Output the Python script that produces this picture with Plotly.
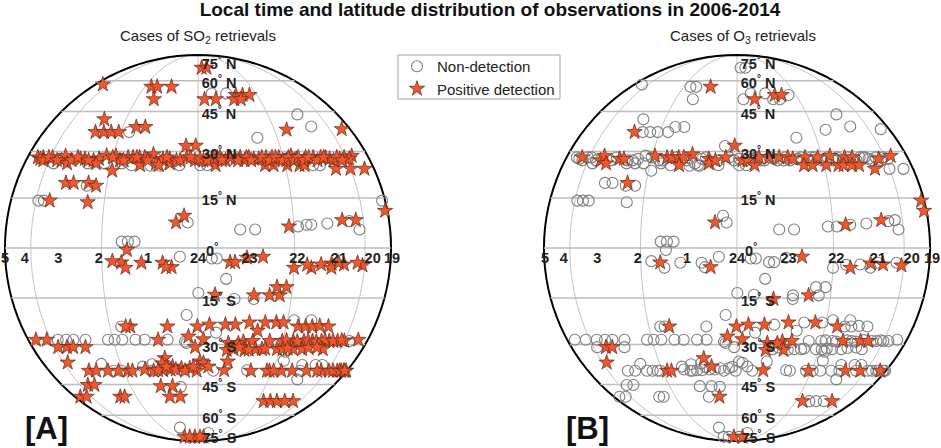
import plotly.graph_objects as go

# Observations, as (longitude from local midnight in degrees, latitude in degrees), by detection outcome
both_lon = [-14.4,8.3,18.7,22.2,-41.6,-0.8,-15.3,-37,81,-6.6,49,
    -65.2,-52.5,-51.3,-49,-43.3,-41.3,-28.9,-24.2,-22.4,-20,-18.2,-19.4,-9.5,-9.3,-7.2,-3.8,1.8,3.5,5.8,7.4,10.9,14.3,17.3,19,23.5,22.6,25.7,28.3,30.8,33.2,35.6,39.1,37.7,42.5,51.6,55.8,64.9,
    -23.5,-7.9,19.7,36.2,44,49.4,58.8,
    22.5,-22.6,-0.2,3.7,8.9,16.8,26.1,34.6,-3.2,1.8,10.4,10.1,15.6,18.9,16.5,13.9,38.8,46.9,50.9,
    -52.3,-48.9,-28,-26.1,-9.6,10.1,28.7,46.7,55.8,74,-57,-12.1,-8.2,33.9,54,-4.4,7.9]
both_lat = [56.6,50.4,52.4,52.4,36.9,32,29,19.7,11.1,7.6,8.3,
    28,27,28.5,26,27.5,27.5,28.5,28,28,28,28,25.4,27.5,26,27,28,27,27,25.4,28,28,28,28,27.5,28,25.4,25.4,28,25.4,28.5,25.4,28,25.4,28,24.2,27.5,28.5,
    -4.3,-5.7,-2.6,-5.9,-4.6,-4.9,-5.2,
    -14.2,-24,-24,-23.4,-23.4,-22.7,-22.7,-24,-27.3,-28.2,-29.5,-31.9,-29,-28.8,-31.9,-29.6,-28.8,-28.8,-28.8,
    -30.9,-30.9,-39.5,-39.5,-37.9,-39.3,-39.5,-39.5,-39.5,-39.5,-36.4,-34.8,-50.4,-52.5,-52.5,-78,-78]

so2_only_lon = [-68,-26,-22.6,-21,3,25.9,17.1,20.4,3,7,35.5,70.9,-40.6,-37.6,-34.2,-30.9,-24.2,-20.5,-4.2,-29,-46.6,-43.2,-33.9,-52.4,-36,-4.2,28.3,55.7,
    -70,-67,-58.5,-47.3,-37.4,-35.3,-32.6,-27,-14,-11.8,-13,-1,0.7,5.2,9.2,12.6,15.7,20.8,25.7,30.9,35,46,48.5,50.2,60,71,59,62,-36,
    -64,-61,-55,-44.8,-39.5,-30,-25.6,-21,-17,-10.5,-6,-2.5,3,6.5,8,11,13.5,16.5,18,22,24.5,27,29.5,32,34,36,38,40.5,44,47.5,52,54.5,57,
    -21.6,-26.4,-22.2,-17.1,-10.6,-9.6,9.6,11.1,14.7,30,39.8,44,56,47,34.6,
    5.2,17.4,25.9,24.7,27.9,
    -24.2,-10,12.2,22.2,28.7,37.6,40.4,43.6,47.7,20,
    -72.7,-62.9,-13.6,-57.6,-42.8,-1,
    25.1,29.9,34.3,42.6,55.6,59.9,70.7,31.5,36,40.5,44.5,48.5,53,58,
    12.5,20.4,22.9,28.7,35.3,39.3,49.4,24,31,33,42,46,18,14.5,
    -47.1,-43.1,-37.2,-32.2,-20.7,-17.3,-13.5,-6.3,-3.1,-0.5,0.7,2,3.9,11,20.8,27.6,34,39.2,53.1,61.5,69.2,84,-13.4,
    -10.5,-8.5,-5,-1.8,-15.5,-12,30.5,65,72,78,80,
    -54.1,-49.6,-73,-64.8,-39.2,-36.6,-16,-10.9,-13.2,38,42.2,47.6,-19.5,-11.8,2.9]
so2_only_lat = [57.9,56.6,56.6,50.4,50.4,52.4,50.4,50.4,69,69,37.8,38,41.8,36.9,36.9,36.9,38.8,38.8,31.9,23.6,19.7,19.7,18.8,14.2,13.7,9.6,6.4,8.3,
    28,27.5,28,27,27,27.5,28.6,27,26,27.5,25.4,27,27.5,27.5,27,27.5,27,27.5,28,27,27.5,28,28,27.5,24.2,24.2,28,27.5,26,
    27,28,27,28,27,28,27,28,27,28,27,28,27,28,27,28,27,28,27,28,27,28,27,28,27,28,27,28,27,28,27,28,27,
    -0.6,-3.9,-5.9,-4.4,-4.4,-5.7,-4.2,-4.2,-2.9,-5.9,-4.9,-5.9,-4.4,-4.4,-5,
    -14,-14.2,-14.2,-11.7,-11.7,
    -24,-24,-23.4,-22.7,-22.7,-24,-24,-23.8,-24,-25.4,
    -28.4,-28.4,-28.4,-30.9,-30.9,-30.9,
    -28.8,-28.8,-28.8,-28.8,-28.8,-28.8,-28.4,-28.6,-29,-28.6,-29,-28.5,-28.8,-28.6,
    -31.6,-31.6,-31.6,-31.6,-31.6,-31.6,-31.6,-31.4,-31.6,-31.4,-31.2,-31,-31.8,-31,
    -39.5,-39.5,-39.5,-39.5,-39,-39.5,-39.3,-38.5,-38.5,-39.5,-36,-36.5,-37.9,-36,-39.5,-39.5,-39.5,-39.5,-39.5,-39.5,-39.5,-39.5,-36.7,
    -39,-39,-39.5,-38,-39.3,-38,-39.5,-39.5,-39.5,-39.5,-39.5,
    -45.2,-45.2,-50.4,-50.4,-50.4,-50.4,-45.7,-45.7,-50.4,-52.5,-52.5,-52.5,-78,-78,-78]

o3_only_lon = [79.7,34.5,11.3,41.3,44.4]
o3_only_lat = [14.2,6.9,-15.3,25.4,25.4]

neither_lon = [6.8,14.1,45.5,49,22,-26.5,-37.5,-58.5,-55.4,-3.1,31.4,36.2,42.5,52.3,57.2,12.7,17.3,
    -56.4,-39.5,-32.6,-26,-22.4,-15.8,-12.4,-6.1,0.7,3,
    -23.3,-21.3,-19.2,-5.4,4.1,5.6,8.5,0.1,17.4,-3.6,-25.8,32.5,39.3,6,
    -55.7,-51,-47.2,-41.5,-32,-29.4,-26.5,-21.6,-18.3,-10.3,-4.4,
    -3.9,63.5,32.5,-34.5,-31,-18.2,5.9,19.2,43.4,-38.8,-21.2,-17.3,33.2,44.6,42.8,50,54.1,-7.4,-14.8,10.8]
neither_lat = [53.2,53.2,43.8,39,34.8,36.9,18.8,14.2,14.2,7.6,6.4,6.9,7.3,8,5.5,5.5,5.5,
    26,26,26,26,25.4,25.2,25.2,25.4,25.4,25.4,
    1.9,1.9,1.9,-2.6,-3.1,-3.1,-9.2,-13.5,-15.3,-20.3,-24,-22,-22,-26,
    -28.4,-28.4,-28.4,-28.4,-28.4,-28.4,-28.4,-28.4,-28.4,-28.4,-29,
    -29.5,-28.8,-32.5,-39.5,-39.5,-39.5,-39.5,-39.3,-39.5,-36.9,-37.9,-37,-35.7,-42.9,-37.3,-37.3,-37.3,-46,-68.5,-73.4]

# Axis text
hour_labels = ["4","3","2","1","24","23","22","21","20"]
hour_lon = [-64,-46.5,-31,-15,0,15.5,31,47,65]
hour_lat = [-3.5]*9
lat_labels = ["75<sup>°</sup> N","60<sup>°</sup> N","45<sup>°</sup> N","30<sup>°</sup> N","15<sup>°</sup> N","0<sup>°</sup>",
              "15<sup>°</sup> S","30<sup>°</sup> S","45<sup>°</sup> S","60<sup>°</sup> S","75<sup>°</sup> S"]
lat_label_lon = [20,11.9,8.6,7.2,6.5,4.2,6.5,7.4,9.2,14,51]
lat_label_lat = [71.4,58,43.4,28.6,13.9,-1.2,-16.3,-31.4,-46.8,-62.9,-81.8]
grid_lats = [-60,-45,-30,-15,0,15,30,45,60]
grid_lons = list(range(-90,91,3))

STAR = "#F2562A"; STAR_LINE = "#5B2A1C"; RING = "#7F7F7F"; GRID = "#BDBDBD"; TEXT = "#222222"
FONT = "Liberation Sans"

fig = go.Figure()

def add_panel(geo, star_lon, star_lat, ring_lon, ring_lat, legend):
    for la in grid_lats:
        fig.add_trace(go.Scattergeo(lon=grid_lons, lat=[la]*len(grid_lons), mode="lines", geo=geo,
                                    line=dict(color=GRID, width=1.4), hoverinfo="skip", showlegend=False))
    fig.add_trace(go.Scattergeo(lon=ring_lon, lat=ring_lat, mode="markers", geo=geo, name="Non-detection",
                                showlegend=legend,
                                marker=dict(symbol="circle-open", size=11, color=RING, line=dict(color=RING, width=1.1))))
    fig.add_trace(go.Scattergeo(lon=star_lon, lat=star_lat, mode="markers", geo=geo, name="Positive detection",
                                showlegend=legend,
                                marker=dict(symbol="star", size=11.5, color=STAR, line=dict(color=STAR_LINE, width=0.7))))
    fig.add_trace(go.Scattergeo(lon=hour_lon, lat=hour_lat, mode="text", geo=geo, text=["<b>%s</b>" % t for t in hour_labels],
                                textposition="middle center", textfont=dict(family=FONT, size=14.5, color=TEXT),
                                hoverinfo="skip", showlegend=False))
    fig.add_trace(go.Scattergeo(lon=lat_label_lon, lat=lat_label_lat, mode="text", geo=geo, text=["<b>%s</b>" % t for t in lat_labels],
                                textposition="middle center", textfont=dict(family=FONT, size=14.5, color=TEXT),
                                hoverinfo="skip", showlegend=False))

add_panel("geo", both_lon + so2_only_lon, both_lat + so2_only_lat, o3_only_lon + neither_lon, o3_only_lat + neither_lat, True)
add_panel("geo2", both_lon + o3_only_lon, both_lat + o3_only_lat, so2_only_lon + neither_lon, so2_only_lat + neither_lat, False)

W, H = 941, 448
def geo_style(cx, cy=248, r=198, scale=0.975):
    return dict(projection=dict(type="orthographic", rotation=dict(lon=0, lat=0, roll=0), scale=scale),
                domain=dict(x=[(cx-r)/W, (cx+r)/W], y=[1-(cy+r)/H, 1-(cy-r)/H]),
                showland=False, showocean=False, showlakes=False, showrivers=False, showcountries=False,
                showcoastlines=False, showframe=True, framecolor="black", framewidth=2, bgcolor="white",
                lonaxis=dict(showgrid=True, dtick=30, gridcolor=GRID, gridwidth=0.9),
                lataxis=dict(showgrid=False))

def note(text, x, y, size, color=TEXT):
    return dict(text=text, x=x/W, y=1-y/H, xref="paper", yref="paper", showarrow=False, xanchor="center", yanchor="middle",
                font=dict(family=FONT, size=size, color=color))

fig.update_layout(
    width=W, height=H, margin=dict(l=0, r=0, t=0, b=0), paper_bgcolor="white",
    font=dict(family=FONT, color=TEXT),
    title=dict(text="<b>Local time and latitude distribution of observations in 2006-2014</b>",
               x=490/W, xanchor="center", y=1-9/H, yanchor="middle", font=dict(family=FONT, size=19, color="#111111")),
    geo=geo_style(198), geo2=geo_style(737),
    legend=dict(x=397/W, y=1-50/H, xanchor="left", yanchor="top", borderwidth=0,
                bgcolor="rgba(0,0,0,0)", font=dict(family=FONT, size=15, color=TEXT), tracegroupgap=0),
    shapes=[dict(type="rect", xref="paper", yref="paper", x0=398/W, x1=560/W, y0=1-99/H, y1=1-55/H,
                 line=dict(color="#A0A0A0", width=1))],
    annotations=[
        note("Cases of SO<sub>2</sub> retrievals", 198, 37, 15),
        note("Cases of O<sub>3</sub> retrievals", 743, 37, 15),
        note("<b>[A]</b>", 46, 428, 31, "#111111"),
        note("<b>[B]</b>", 587, 428, 31, "#111111"),
        note("<b>5</b>", 5, 258, 14.5),
        note("<b>19</b>", 392, 258, 14.5),
        note("<b>5</b>", 545, 258, 14.5),
        note("<b>19</b>", 932, 258, 14.5),
    ],
)

fig.write_html("out.html", config=dict(displayModeBar=False),
               post_script="document.body.style.margin='0';document.documentElement.style.overflow='hidden';")
